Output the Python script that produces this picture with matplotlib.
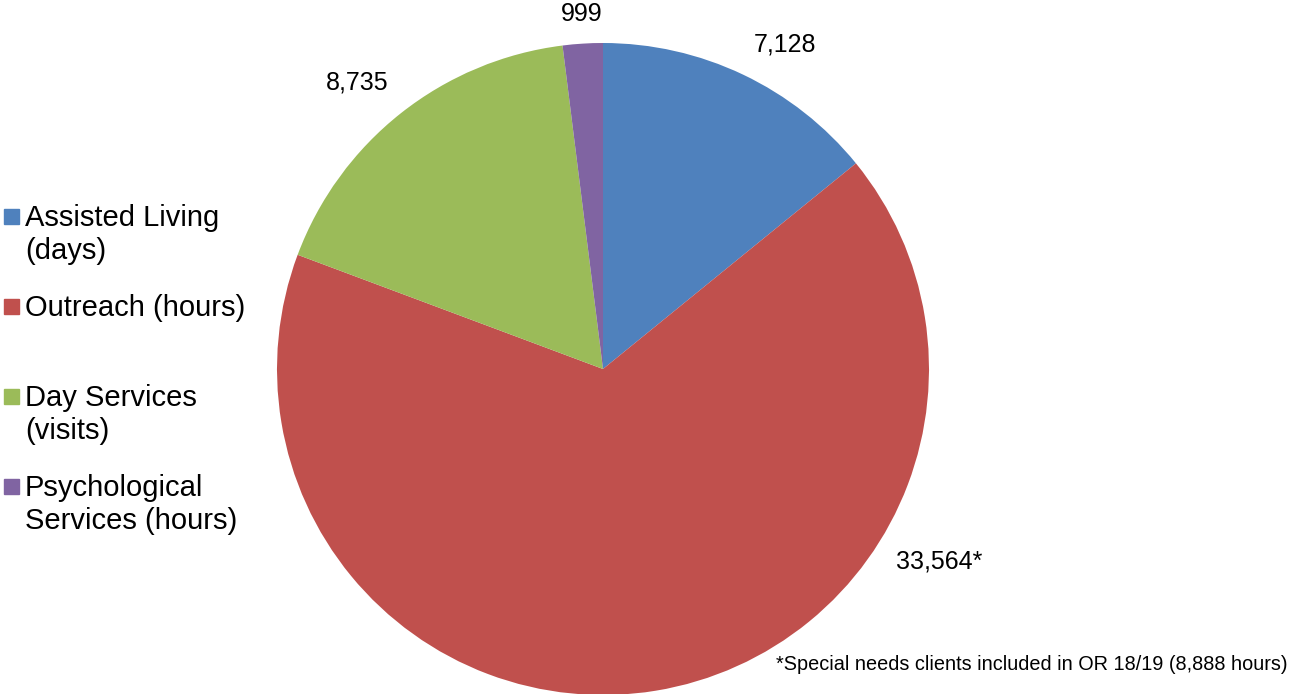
import matplotlib.pyplot as plt
from matplotlib.patches import Rectangle

categories = ["Assisted Living\n(days)", "Outreach (hours)",
              "Day Services\n(visits)", "Psychological\nServices (hours)"]
values = [7128, 33564, 8735, 999]
value_labels = ["7,128", "33,564*", "8,735", "999"]
colors = ["#4F81BD", "#C0504D", "#9BBB59", "#8064A2"]
footnote = "*Special needs clients included in OR 18/19 (8,888 hours)"

# where Excel put the data labels (data coords, pie radius = 1)
label_pos = [(0.558, 0.994), (1.030, -0.592), (-0.755, 0.880), (-0.064, 1.089)]

W, H = 1290, 694
fig = plt.figure(figsize=(W / 100, H / 100), dpi=100)

cx, cy, r = 603, 369, 326
ax = fig.add_axes([(cx - r) / W, (H - cy - r) / H, 2 * r / W, 2 * r / H])
ax.pie(values, colors=colors, startangle=90, counterclock=False, radius=1,
       wedgeprops=dict(linewidth=0))
ax.set_xlim(-1, 1)
ax.set_ylim(-1, 1)
ax.set_aspect("equal")
ax.axis("off")

for (x, y), txt in zip(label_pos, value_labels):
    ax.text(x, y, txt, ha="center", va="center", fontsize=18,
            family="Liberation Sans", color="#000000", clip_on=False)

# legend, Excel style: equal slots, text top-aligned
for i, (lab, col) in enumerate(zip(categories, colors)):
    ytop = 218 + 90 * i
    fig.patches.append(Rectangle((4 / W, 1 - (ytop + 6) / H), 15 / W, 15 / H,
                                 transform=fig.transFigure, color=col))
    fig.text(25 / W, 1 - (ytop - 14) / H, lab, ha="left", va="top",
             fontsize=21, family="Liberation Sans", linespacing=1.22)

fig.text(1288 / W, 1 - 665 / H, footnote, ha="right", va="center",
         fontsize=14.3, family="Liberation Sans")

fig.savefig("out.png", dpi=100)
